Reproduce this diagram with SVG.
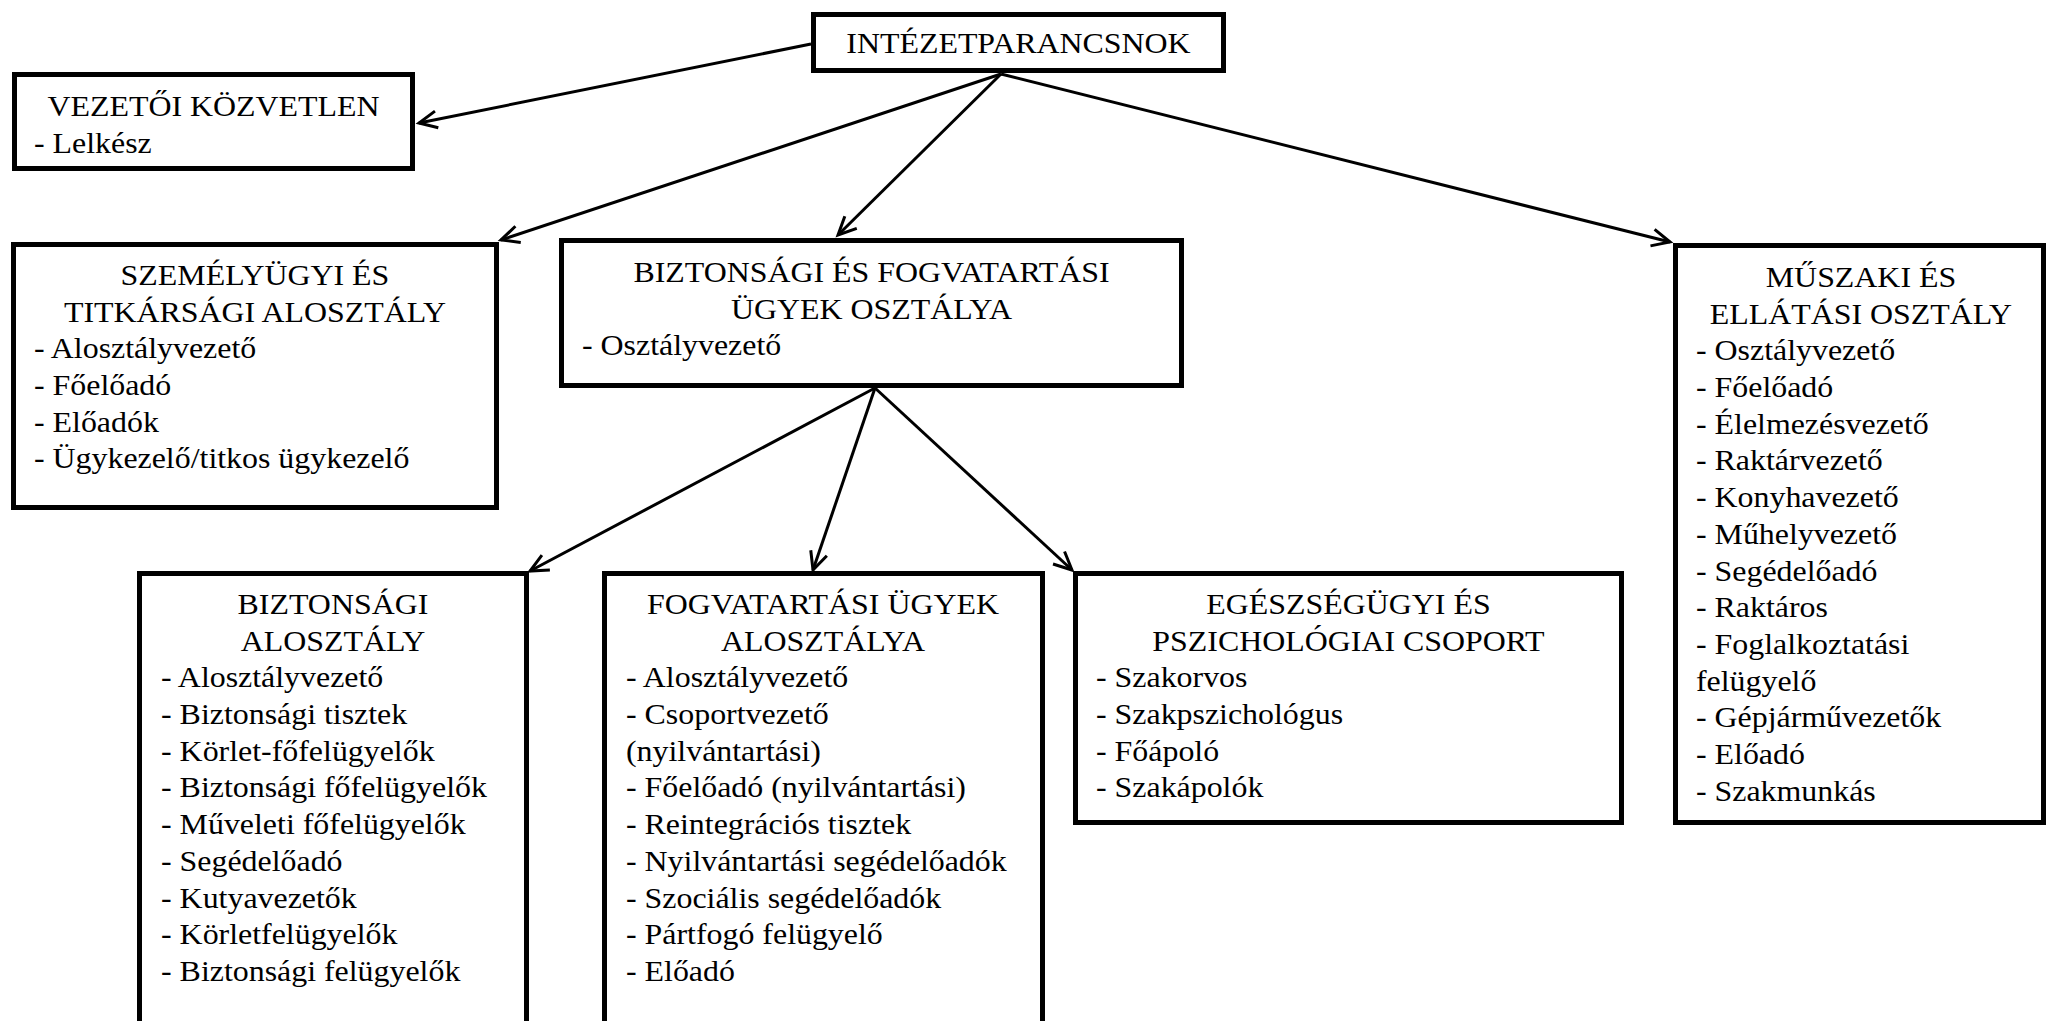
<svg xmlns="http://www.w3.org/2000/svg" width="2046" height="1021" viewBox="0 0 2046 1021">
<style>
.box{fill:#fff;stroke:#000;stroke-width:5}
.t{font-family:"Liberation Serif","Times New Roman",serif;font-size:29px;fill:#000}
.c{text-anchor:middle}
.edge{fill:none;stroke:#000;stroke-width:3}
</style>
<defs>
<marker id="arr" markerUnits="userSpaceOnUse" markerWidth="24" markerHeight="22" refX="20" refY="10" orient="auto" overflow="visible">
<path d="M2,1.5 L20,10 L2,18.5" fill="none" stroke="#000" stroke-width="3" stroke-linejoin="miter"/>
</marker>
</defs>
<rect width="2046" height="1021" fill="#fff"/>
<g id="connectors">
<line class="edge" x1="811" y1="44" x2="419" y2="123" marker-end="url(#arr)"/>
<line class="edge" x1="1001" y1="74" x2="501" y2="240" marker-end="url(#arr)"/>
<line class="edge" x1="1001" y1="74" x2="838" y2="235" marker-end="url(#arr)"/>
<line class="edge" x1="1001" y1="74" x2="1670" y2="242" marker-end="url(#arr)"/>
<line class="edge" x1="875" y1="388" x2="530" y2="571" marker-end="url(#arr)"/>
<line class="edge" x1="875" y1="388" x2="813" y2="570" marker-end="url(#arr)"/>
<line class="edge" x1="875" y1="388" x2="1072" y2="570" marker-end="url(#arr)"/>
</g>
<g id="node-intezetparancsnok">
<rect class="box" x="813.5" y="14.5" width="410" height="56"/>
<g transform="scale(1.1 1)"><text class="t c" x="925.9" y="53">INTÉZETPARANCSNOK</text></g>
</g>
<g id="node-vezetoi">
<rect class="box" x="14.5" y="74.5" width="398" height="94"/>
<g transform="scale(1.1 1)"><text class="t"><tspan class="c" x="194.1" y="116">VEZETŐI KÖZVETLEN</tspan><tspan x="30.9" y="153">- Lelkész</tspan></text></g>
</g>
<g id="node-szemelyugyi">
<rect class="box" x="13.5" y="244.5" width="483" height="263"/>
<g transform="scale(1.1 1)"><text class="t"><tspan class="c" x="231.8" y="285">SZEMÉLYÜGYI ÉS</tspan><tspan class="c" x="231.8" y="321.7">TITKÁRSÁGI ALOSZTÁLY</tspan><tspan x="30.9" y="358.4">- Alosztályvezető</tspan><tspan x="30.9" y="395.1">- Főelőadó</tspan><tspan x="30.9" y="431.8">- Előadók</tspan><tspan x="30.9" y="468.5">- Ügykezelő/titkos ügykezelő</tspan></text></g>
</g>
<g id="node-biztonsagi-fogvatartasi">
<rect class="box" x="561.5" y="240.5" width="620" height="145"/>
<g transform="scale(1.1 1)"><text class="t"><tspan class="c" x="792.3" y="282">BIZTONSÁGI ÉS FOGVATARTÁSI</tspan><tspan class="c" x="792.3" y="318.7">ÜGYEK OSZTÁLYA</tspan><tspan x="529.1" y="355.4">- Osztályvezető</tspan></text></g>
</g>
<g id="node-muszaki">
<rect class="box" x="1675.5" y="245.5" width="368" height="577"/>
<g transform="scale(1.1 1)"><text class="t"><tspan class="c" x="1691.8" y="287">MŰSZAKI ÉS</tspan><tspan class="c" x="1691.8" y="323.7">ELLÁTÁSI OSZTÁLY</tspan><tspan x="1541.8" y="360.4">- Osztályvezető</tspan><tspan x="1541.8" y="397.1">- Főelőadó</tspan><tspan x="1541.8" y="433.8">- Élelmezésvezető</tspan><tspan x="1541.8" y="470.5">- Raktárvezető</tspan><tspan x="1541.8" y="507.2">- Konyhavezető</tspan><tspan x="1541.8" y="543.9">- Műhelyvezető</tspan><tspan x="1541.8" y="580.6">- Segédelőadó</tspan><tspan x="1541.8" y="617.3">- Raktáros</tspan><tspan x="1541.8" y="654">- Foglalkoztatási</tspan><tspan x="1541.8" y="690.7">felügyelő</tspan><tspan x="1541.8" y="727.4">- Gépjárművezetők</tspan><tspan x="1541.8" y="764.1">- Előadó</tspan><tspan x="1541.8" y="800.8">- Szakmunkás</tspan></text></g>
</g>
<g id="node-biztonsagi-alosztaly">
<rect class="box" x="139.5" y="573.5" width="387" height="460"/>
<g transform="scale(1.1 1)"><text class="t"><tspan class="c" x="302.7" y="614">BIZTONSÁGI</tspan><tspan class="c" x="302.7" y="650.7">ALOSZTÁLY</tspan><tspan x="146.4" y="687.4">- Alosztályvezető</tspan><tspan x="146.4" y="724.1">- Biztonsági tisztek</tspan><tspan x="146.4" y="760.8">- Körlet-főfelügyelők</tspan><tspan x="146.4" y="797.5">- Biztonsági főfelügyelők</tspan><tspan x="146.4" y="834.2">- Műveleti főfelügyelők</tspan><tspan x="146.4" y="870.9">- Segédelőadó</tspan><tspan x="146.4" y="907.6">- Kutyavezetők</tspan><tspan x="146.4" y="944.3">- Körletfelügyelők</tspan><tspan x="146.4" y="981">- Biztonsági felügyelők</tspan></text></g>
</g>
<g id="node-fogvatartasi-alosztaly">
<rect class="box" x="604.5" y="573.5" width="438" height="460"/>
<g transform="scale(1.1 1)"><text class="t"><tspan class="c" x="748.2" y="614">FOGVATARTÁSI ÜGYEK</tspan><tspan class="c" x="748.2" y="650.7">ALOSZTÁLYA</tspan><tspan x="569.1" y="687.4">- Alosztályvezető</tspan><tspan x="569.1" y="724.1">- Csoportvezető</tspan><tspan x="569.1" y="760.8">(nyilvántartási)</tspan><tspan x="569.1" y="797.5">- Főelőadó (nyilvántartási)</tspan><tspan x="569.1" y="834.2">- Reintegrációs tisztek</tspan><tspan x="569.1" y="870.9">- Nyilvántartási segédelőadók</tspan><tspan x="569.1" y="907.6">- Szociális segédelőadók</tspan><tspan x="569.1" y="944.3">- Pártfogó felügyelő</tspan><tspan x="569.1" y="981">- Előadó</tspan></text></g>
</g>
<g id="node-egeszsegugyi">
<rect class="box" x="1075.5" y="573.5" width="546" height="249"/>
<g transform="scale(1.1 1)"><text class="t"><tspan class="c" x="1225.9" y="614">EGÉSZSÉGÜGYI ÉS</tspan><tspan class="c" x="1225.9" y="650.7">PSZICHOLÓGIAI CSOPORT</tspan><tspan x="996.4" y="687.4">- Szakorvos</tspan><tspan x="996.4" y="724.1">- Szakpszichológus</tspan><tspan x="996.4" y="760.8">- Főápoló</tspan><tspan x="996.4" y="797.5">- Szakápolók</tspan></text></g>
</g>
</svg>
